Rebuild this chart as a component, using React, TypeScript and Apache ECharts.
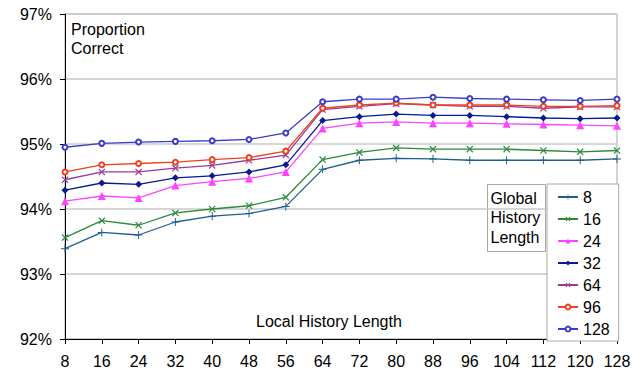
import React, { useEffect, useRef } from "react";
import * as echarts from "echarts";

const categories = ["8", "16", "24", "32", "40", "48", "56", "64", "72", "80", "88", "96", "104", "112", "120", "128"];
const yTicks = [92, 93, 94, 95, 96, 97];

const s8 = [93.39, 93.64, 93.6, 93.8, 93.89, 93.93, 94.04, 94.61, 94.75, 94.78, 94.77, 94.75, 94.75, 94.75, 94.75, 94.77];
const s16 = [93.56, 93.82, 93.75, 93.94, 94.0, 94.05, 94.18, 94.76, 94.87, 94.94, 94.92, 94.92, 94.92, 94.9, 94.88, 94.9];
const s24 = [94.12, 94.2, 94.17, 94.36, 94.42, 94.47, 94.57, 95.24, 95.32, 95.34, 95.32, 95.32, 95.31, 95.3, 95.29, 95.28];
const s32 = [94.29, 94.4, 94.38, 94.48, 94.51, 94.57, 94.68, 95.36, 95.42, 95.46, 95.44, 95.44, 95.42, 95.4, 95.39, 95.4];
const s64 = [94.45, 94.57, 94.57, 94.63, 94.67, 94.75, 94.83, 95.53, 95.58, 95.62, 95.6, 95.58, 95.58, 95.55, 95.57, 95.57];
const s96 = [94.57, 94.68, 94.7, 94.72, 94.76, 94.79, 94.89, 95.55, 95.6, 95.63, 95.6, 95.6, 95.6, 95.58, 95.58, 95.59];
const s128 = [94.95, 95.01, 95.03, 95.04, 95.05, 95.07, 95.17, 95.65, 95.69, 95.69, 95.72, 95.7, 95.69, 95.68, 95.67, 95.69];

const seriesNames = ["8", "16", "24", "32", "64", "96", "128"];
const seriesData = [s8, s16, s24, s32, s64, s96, s128];
const seriesColors = ["#1f5f8f", "#2a8a3a", "#ff44ff", "#0a1a8f", "#9a3a9e", "#f0401e", "#3c3cc8"];

const PLUS = "path://M4.4,0H5.6V4.4H10V5.6H5.6V10H4.4V5.6H0V4.4H4.4Z";
const XMARK = "path://M0,1.2L1.2,0L5,3.8L8.8,0L10,1.2L6.2,5L10,8.8L8.8,10L5,6.2L1.2,10L0,8.8L3.8,5Z";
const seriesSymbols = [PLUS, XMARK, "triangle", "diamond", XMARK, "emptyCircle", "emptyCircle"];
const seriesSymbolSizes = [8, 7, 8, 7, 7, 5, 5];

const FONT = "Liberation Sans, Arial, sans-serif";

export default function App() {
  const ref = useRef<HTMLDivElement>(null);
  useEffect(() => {
    if (!ref.current) return;
    const chart = echarts.init(ref.current, null, { renderer: "svg" });
    chart.setOption({
      animation: false,
      backgroundColor: "#ffffff",
      textStyle: { fontFamily: FONT },
      grid: {
        left: 65,
        right: 27,
        top: 14,
        bottom: 34,
        show: true,
        borderColor: "#a8a8a8",
        borderWidth: 1,
      },
      xAxis: {
        type: "category",
        data: categories,
        boundaryGap: false,
        axisLine: { lineStyle: { color: "#000", width: 1 } },
        axisTick: { show: true, length: 5, inside: false, alignWithLabel: true, lineStyle: { color: "#000" } },
        axisLabel: { color: "#000", fontSize: 16, margin: 14, fontFamily: FONT, interval: 0 },
        splitLine: { show: false },
      },
      yAxis: {
        type: "value",
        min: yTicks[0],
        max: yTicks[yTicks.length - 1],
        interval: 1,
        axisLine: { show: true, lineStyle: { color: "#000", width: 1 } },
        axisTick: { show: true, length: 5, lineStyle: { color: "#000" } },
        axisLabel: { color: "#000", fontSize: 16, margin: 13, fontFamily: FONT, formatter: (v: number) => v + "%" },
        splitLine: { show: true, lineStyle: { color: "#c8c8c8", width: 1.5 } },
      },
      legend: {
        orient: "vertical",
        left: 547,
        top: 184,
        padding: [3, 9, 2, 10],
        itemWidth: 20,
        itemHeight: 6,
        itemGap: 2,
        backgroundColor: "#ffffff",
        borderColor: "#a8a8a8",
        borderWidth: 1,
        data: seriesNames,
        textStyle: { fontSize: 16, lineHeight: 20, color: "#000", fontFamily: FONT },
      },
      graphic: [
        {
          type: "text",
          left: 71,
          top: 20,
          z: 10,
          style: {
            text: "Proportion\nCorrect",
            fontSize: 16,
            lineHeight: 19,
            fill: "#000",
            fontFamily: FONT,
          },
        },
        {
          type: "text",
          left: 256,
          top: 313,
          z: 10,
          style: {
            text: "Local History Length",
            fontSize: 16,
            fill: "#000",
            fontFamily: FONT,
          },
        },
        {
          type: "group",
          left: 487,
          top: 184,
          z: 10,
          children: [
            {
              type: "rect",
              shape: { x: 0, y: 0, width: 58, height: 67 },
              style: { fill: "#fff", stroke: "#a8a8a8", lineWidth: 1 },
            },
            {
              type: "text",
              x: 3,
              y: 4,
              style: {
                text: "Global\nHistory\nLength",
                fontSize: 16,
                lineHeight: 19.5,
                fill: "#000",
                fontFamily: FONT,
              },
            },
          ],
        },
      ],
      series: seriesNames.map((name, i) => ({
        name,
        type: "line",
        data: seriesData[i],
        symbol: seriesSymbols[i],
        symbolSize: seriesSymbolSizes[i],
        showAllSymbol: true,
        color: seriesColors[i],
        lineStyle: { color: seriesColors[i], width: 1.3 },
        itemStyle: {
          color: seriesColors[i],
          borderColor: seriesColors[i],
          borderWidth: seriesSymbols[i] === "emptyCircle" ? 1.5 : 0,
        },
        z: 2 + i,
      })),
    });
    return () => chart.dispose();
  }, []);
  return (
    <div
      ref={ref}
      style={{ position: "fixed", left: 0, top: 0, width: 644, height: 373 }}
    />
  );
}
